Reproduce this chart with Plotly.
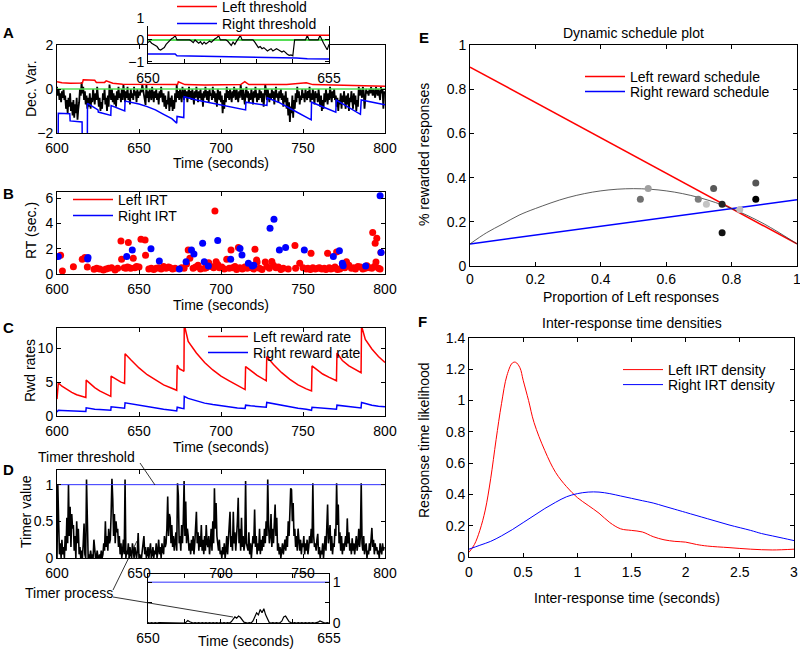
import numpy as np
import plotly.graph_objects as go

W, H = 800, 649
FONT = "Liberation Sans, Arial, Helvetica, sans-serif"

def xd(l, r):
    return [l / W, r / W]

def yd(t, b):
    return [1 - b / H, 1 - t / H]

def px(x):
    return x / W

def py(y):
    return 1 - y / H

# ---------------- Panel A: decision variable ----------------
a_t = np.arange(600, 800, 0.5)
a_dv = [
    0.1, -0.3, 0.0, -0.5, -0.2, -0.6, -0.1, -0.4, 0.0, -0.5,
    -0.3, -0.9, -0.5, -1.1, -0.4, -0.8, -0.2, -1.0, -0.6, -1.2,
    -0.5, -1.3, -0.7, -1.1, -0.4, -1.4, -0.9, -0.6, 0.0, -0.3,
    0.3, -0.2, 0.1, -0.5, -0.1, -0.7, -0.3, -0.9, -0.4, -0.8,
    -0.2, -0.9, -0.4, -0.6, 0.0, -0.3, -0.7, -0.2, -0.5, 0.1,
    -0.3, -0.8, -0.4, -1.0, -0.6, -0.9, -0.2, -0.5, 0.0, -0.7,
    -0.4, -1.0, -0.3, -0.8, 0.2, -0.1, -0.5, 0.0, -0.6, -0.2,
    -0.7, -0.3, -0.8, -0.1, -0.5, 0.1, -0.4, -0.2, -0.6, 0.0,
    -0.5, 0.2, -0.3, -0.6, -0.1, -0.4, 0.1, -0.5, -0.2, -0.7,
    0.0, -0.4, -0.2, -0.5, 0.1, -0.3, -0.1, -0.6, 0.0, -0.4,
    -0.12, -0.3, 0.0, -0.15, 0.2, 0.0, -0.35, -0.5, -0.72, 0.2,
    -0.4, -0.1, -0.6, 0.0, -0.3, -0.5, 0.1, -0.2, -0.6, -0.1,
    -0.4, 0.0, -0.5, -0.2, -0.7, -0.1, -0.4, 0.1, -0.3, -0.6,
    -0.2, -0.8, -0.3, -0.9, -0.5, -0.7, -0.1, -1.0, -0.4, -0.8,
    -0.3, -1.0, -0.5, -0.9, -0.2, -0.6, 0.2, -0.4, -0.1, -0.5,
    0.0, -0.3, -0.6, 0.1, -0.2, -0.5, 0.0, -0.4, -0.1, -0.6,
    -0.2, 0.1, -0.4, -0.1, -0.5, 0.0, -0.3, -0.7, -0.1, -0.4,
    0.1, -0.3, -0.6, -0.1, -0.4, 0.0, -0.5, -0.2, -0.8, -0.1,
    -0.4, 0.1, -0.3, -0.5, -0.1, -0.6, 0.0, -0.3, -0.2, -0.5,
    0.1, -0.4, -0.1, -0.6, -0.2, -0.8, 0.0, -0.3, -0.5, -0.1,
    -0.6, -0.3, -1.1, -0.5, -0.9, -0.2, -0.6, 0.1, -0.4, -0.1,
    -0.5, 0.0, -0.3, -0.6, -0.1, -0.4, 0.1, -0.2, -0.5, 0.0,
    -0.3, -0.6, -0.1, -0.4, 0.2, -0.2, -0.5, 0.0, -0.4, -0.7,
    -0.2, 0.1, -0.4, -0.1, -0.6, -0.2, -0.5, 0.0, -0.3, -0.7,
    -0.1, -0.4, 0.1, -0.3, -0.6, -0.2, -0.5, 0.0, -0.4, -0.1,
    -0.6, -0.2, -0.8, -0.3, 0.2, -0.1, -0.5, 0.0, -0.3, -0.6,
    -0.2, -0.5, 0.0, -0.4, -0.1, -0.7, -0.3, 0.1, -0.4, -0.2,
    -0.6, -0.1, -0.4, 0.0, -0.5, -0.2, -0.8, -0.3, -0.6, -0.1,
    -0.9, -0.4, -1.2, -0.6, -1.5, -0.8, -1.1, -0.3, -1.3, -0.5,
    -0.9, -0.2, -0.6, 0.1, -0.4, -0.1, -0.7, -0.3, -0.5, 0.0,
    -0.4, -0.2, -0.6, 0.0, -0.3, -0.5, -0.1, -0.4, 0.1, -0.6,
    -0.2, -0.5, 0.0, -0.3, -0.7, -0.1, -0.4, -0.2, -0.6, 0.0,
    -0.5, -0.8, -0.3, -1.0, -0.5, -0.9, -0.2, -0.6, 0.0, -0.4,
    -0.7, -0.2, -0.5, 0.1, -0.3, -0.6, -0.1, -0.4, 0.0, -0.5,
    -0.3, -0.8, -0.4, -1.0, -0.5, -0.7, -0.2, -0.9, -0.3, -0.6,
    -0.1, -0.5, -0.9, -0.3, -0.7, -0.2, -1.0, -0.4, -0.6, -0.1,
    -0.5, -0.9, -0.2, -0.7, -0.3, -1.0, -0.5, -0.8, 0.1, -0.3,
    0.0, -0.2, -0.4, 0.1, -0.1, -0.9, -0.3, 0.0, -0.2, -0.1,
    -0.3, 0.0, -0.2, 0.1, -0.1, -0.3, 0.0, -0.2, -0.4, 0.1,
    -0.1, -0.3, 0.0, -0.2, -0.5, 0.1, -0.2, 0.0, -0.9, -0.1,
]
a_lt_t = [600, 603, 608, 612, 615.5, 616, 623, 624, 629, 630, 634, 640, 660,
          673.5, 674, 678, 690, 712, 714.5, 717, 740, 752, 756, 770, 785, 800]
a_lt = [0.33, 0.28, 0.26, 0.27, 0.27, 0.42, 0.4, 0.3, 0.3, 0.37, 0.26, 0.22, 0.2,
        0.2, 0.33, 0.2, 0.18, 0.2, 0.33, 0.2, 0.2, 0.28, 0.2, 0.18, 0.15, 0.12]
a_rt_t = [600, 600.7, 600.8, 607.8, 608.0, 615.3, 615.4, 618.5, 618.6, 625.0, 625.2,
          632.8, 633.0, 641.3, 641.5, 650, 655, 660, 665, 670, 673.0, 673.2, 677.3,
          677.5, 685, 695, 705, 715.0, 715.2, 728.0, 728.2, 735, 745, 755.0, 755.2,
          762, 770.0, 770.3, 778, 785.0, 785.5, 792, 800]
a_rt = [-2.5, -2.5, -1.1, -1.12, -1.45, -1.5, -2.5, -2.5, -0.65, -0.95, -1.05,
        -1.2, -0.75, -1.0, -0.55, -0.68, -0.8, -0.95, -1.15, -1.35, -1.55, -1.25, -1.3,
        -0.35, -0.5, -0.65, -0.8, -0.95, -0.6, -0.75, -0.4, -0.6, -1.0, -1.4, -0.6,
        -0.8, -1.05, -0.5, -0.85, -1.15, -0.5, -0.6, -0.72]
a_zero_t = [600, 800]
a_zero = [0, 0]

# inset A (650-655 s)
ai_t = np.round(np.arange(650, 655.001, 0.05), 2)
ai_dv = [
    -0.12, -0.05, -0.15, -0.2, -0.25, -0.3, -0.42, -0.46, -0.4, -0.35,
    -0.2, -0.1, -0.05, 0.05, 0.1, 0.2, 0.0, 0.0, 0.0, 0.0,
    0.0, 0.0, 0.0, 0.0, -0.05, -0.12, 0.0, -0.1, -0.15, -0.08,
    -0.2, -0.1, -0.18, -0.12, -0.05, -0.1, 0.0, 0.05, 0.1, 0.2,
    0.0, 0.0, 0.0, 0.0, -0.05, -0.15, -0.25, -0.1, -0.2, -0.05,
    0.05, 0.2, 0.0, 0.0, 0.0, 0.0, 0.0, 0.0, 0.0, -0.1,
    -0.2, -0.35, -0.3, -0.4, -0.35, -0.45, -0.5, -0.45, -0.4, -0.5,
    -0.45, -0.4, -0.45, -0.5, -0.55, -0.5, -0.6, -0.65, -0.7, -0.68,
    -0.72, 0.0, 0.0, 0.0, 0.0, 0.0, 0.0, 0.0, 0.2, 0.0,
    0.0, 0.0, 0.0, 0.0, 0.0, 0.2, 0.0, -0.15, -0.3, -0.45,
    -0.2,
]
ai_lt_t = [650, 655]
ai_lt = [0.21, 0.21]
ai_rt_t = [650, 650.75, 650.8, 654.0, 654.1, 654.4, 655]
ai_rt = [-0.64, -0.64, -0.72, -0.79, -0.82, -0.86, -0.87]
ai_zero_t = [650, 655]
ai_zero = [0, 0]

# ---------------- Panel B: response times ----------------
b_left_t = [602.2, 603.3, 610.0, 615.4, 617.0, 618.5, 622.6, 624.2, 626.0, 628.3,
            630.0, 631.5, 633.3, 635.4, 637.0, 639.0, 639.4, 641.0, 642.0, 643.0,
            643.5, 644.0, 645.0, 646.5, 647.5, 648.5, 650.0, 651.2, 653.7, 654.0,
            656.0, 657.5, 659.0, 660.5, 662.0, 663.5, 665.0, 666.5, 668.0, 669.0,
            670.5, 672.0, 676.0, 677.5, 679.0, 680.0, 681.0, 683.0, 684.5, 686.0,
            687.5, 690.0, 691.0, 692.5, 694.0, 695.5, 696.3, 697.0, 698.0, 699.0,
            700.5, 702.0, 703.5, 705.0, 706.1, 707.0, 708.5, 709.5, 710.6, 711.5,
            713.0, 714.5, 716.0, 717.5, 718.5, 720.0, 720.7, 721.7, 722.0, 723.5,
            725.0, 727.0, 728.0, 729.5, 731.0, 732.0, 733.5, 735.0, 736.5, 738.0,
            741.0, 745.1, 745.5, 748.0, 750.0, 752.0, 753.0, 754.5, 754.9, 756.0,
            757.5, 759.0, 760.0, 761.5, 763.0, 764.0, 765.0, 766.0, 767.0, 768.5,
            769.5, 770.5, 771.0, 772.5, 774.0, 775.5, 776.5, 778.0, 779.5, 781.0,
            782.0, 783.5, 785.0, 786.5, 788.0, 789.0, 790.5, 792.0, 792.5, 793.5,
            794.0, 794.5, 795.0, 796.0, 797.0, 797.5]
b_left_rt = [1.48, 0.24, 0.58, 1.16, 1.3, 0.55, 0.37, 0.45, 0.4, 0.32,
             0.4, 0.45, 0.5, 0.32, 0.45, 2.62, 1.16, 0.5, 0.45, 0.55,
             2.5, 0.5, 0.45, 1.24, 0.5, 0.6, 0.55, 2.75, 2.7, 1.48,
             0.4, 0.45, 0.35, 0.45, 0.5, 0.4, 0.6, 0.45, 0.55, 0.5,
             0.4, 0.45, 0.5, 0.45, 0.8, 1.9, 1.24, 0.45, 0.55, 0.7,
             0.4, 0.45, 0.5, 0.9, 0.6, 0.5, 5.0, 0.98, 0.75, 0.5,
             0.55, 0.4, 1.16, 0.45, 1.9, 0.5, 0.6, 0.35, 2.1, 0.5,
             0.4, 0.55, 0.45, 0.65, 0.5, 0.4, 1.96, 1.1, 0.95, 0.45,
             0.35, 0.95, 0.6, 0.45, 1.0, 0.7, 0.5, 0.55, 0.35, 0.45,
             0.4, 2.25, 0.45, 0.85, 0.5, 0.4, 0.45, 0.35, 1.64, 0.5,
             0.4, 0.45, 0.5, 0.4, 0.45, 0.35, 1.64, 0.5, 0.4, 0.45,
             0.55, 1.75, 0.35, 0.4, 0.6, 0.5, 0.98, 0.7, 0.45, 0.5,
             0.4, 0.6, 0.55, 0.4, 0.45, 0.65, 0.5, 0.45, 3.28, 0.6,
             2.43, 0.95, 2.83, 0.45, 0.4, 1.7]
b_right_t = [600.8, 618.7, 618.9, 642.5, 645.9, 657.3, 662.4, 674.6, 678.7, 682.0,
             683.5, 688.8, 689.8, 692.3, 698.0, 705.9, 711.6, 712.8, 716.7, 719.1,
             720.0, 729.9, 732.3, 735.6, 739.4, 750.8, 768.5, 772.2, 774.0, 774.5,
             788.2, 797.0, 797.6]
b_right_rt = [1.38, 1.19, 1.3, 1.38, 1.9, 2.0, 1.03, 0.4, 0.98, 1.9,
              1.58, 2.43, 0.98, 0.63, 2.65, 1.16, 2.03, 1.5, 0.85, 0.63,
              0.7, 3.62, 4.34, 1.9, 2.1, 1.9, 1.38, 1.85, 0.85, 0.65,
              0.63, 6.2, 1.7]

# ---------------- Panel C: reward rates ----------------
c_t = [600, 600.8, 603, 606, 609, 612, 615, 617.6, 617.8, 620, 623, 626, 629,
       632.8, 633.0, 636, 639, 641.2, 641.5, 645, 650, 655, 660, 665, 670, 673.0,
       673.3, 674.5, 676.0, 677.4, 677.6, 680, 685, 690, 695, 700, 705, 710, 714.7,
       715.0, 718, 722, 727.6, 727.9, 732, 737, 742, 747, 752, 755.2, 755.5, 758,
       762, 766, 770.4, 770.7, 774, 778, 782, 785.4, 785.7, 788, 792, 796, 800]
c_left = [2.5, 4.9, 4.4, 3.9, 3.5, 3.15, 2.9, 2.75, 5.3, 4.8, 4.2, 3.7, 3.3,
          2.9, 5.9, 5.4, 5.0, 4.8, 9.2, 8.3, 7.1, 6.1, 5.3, 4.6, 4.1, 3.8,
          7.5, 7.0, 6.8, 6.6, 13.5, 11.0, 9.3, 7.9, 6.8, 5.9, 5.2, 4.5, 3.9,
          7.3, 6.7, 6.0, 5.2, 8.8, 7.6, 6.4, 5.4, 4.6, 4.0, 3.7, 7.4, 6.9,
          6.2, 5.7, 5.2, 9.3, 8.2, 7.4, 6.8, 6.4, 13.3, 11.3, 9.9, 8.8, 7.9]
c_right = [0.6, 0.85, 0.82, 0.8, 0.75, 0.75, 0.72, 0.68, 1.2, 1.1, 1.0, 0.95, 0.9,
           0.85, 1.35, 1.25, 1.2, 1.15, 1.95, 1.8, 1.55, 1.35, 1.15, 1.0, 0.85, 0.75,
           1.3, 1.2, 1.15, 1.1, 2.9, 2.6, 2.2, 1.9, 1.7, 1.5, 1.35, 1.2, 1.12,
           1.6, 1.5, 1.4, 1.3, 2.0, 1.8, 1.55, 1.35, 1.15, 1.0, 0.85, 1.3, 1.25,
           1.15, 1.05, 1.0, 1.6, 1.5, 1.4, 1.3, 1.2, 2.0, 1.85, 1.6, 1.45, 1.35]

# ---------------- Panel D: timer ----------------
d_t = np.arange(600, 800, 0.5)
d_timer = [
    0.0, 1.0, 0.5, 0.05, 0.2, 0.0, 0.25, 0.05, 0.15, 0.0,
    0.3, 0.1, 0.55, 0.2, 1.0, 0.3, 0.7, 0.15, 0.6, 0.4,
    0.45, 0.1, 0.3, 0.0, 0.5, 0.2, 0.4, 0.05, 0.15, 0.0,
    0.1, 0.0, 0.2, 0.47, 0.05, 0.0, 1.07, 0.1, 0.0, 0.05,
    0.0, 0.1, 0.0, 0.05, 0.0, 0.25, 0.05, 0.0, 0.0, 0.1,
    0.0, 0.0, 0.05, 0.0, 0.1, 0.0, 0.05, 0.2, 0.1, 0.5,
    0.15, 0.3, 0.1, 0.4, 0.2, 0.25, 0.6, 1.08, 0.8, 0.3,
    0.6, 0.2, 0.5, 0.35, 0.4, 0.15, 0.3, 0.05, 0.2, 0.0,
    0.1, 0.25, 0.05, 1.07, 0.0, 0.1, 0.05, 0.2, 0.0, 0.15,
    0.05, 0.0, 0.2, 0.1, 0.0, 0.15, 0.05, 0.0, 0.1, 0.34,
    0.0, 0.05, 0.0, 0.0, 0.1, 0.2, 0.3, 0.05, 0.15, 0.0,
    0.05, 0.15, 0.0, 0.1, 0.2, 0.0, 0.05, 0.15, 0.0, 0.1,
    0.05, 0.2, 0.0, 0.1, 0.25, 0.05, 0.15, 0.0, 0.2, 0.1,
    0.05, 0.3, 0.15, 0.2, 0.4, 0.84, 0.3, 0.6, 0.55, 0.2,
    0.45, 0.15, 0.3, 0.1, 0.2, 0.35, 0.1, 1.02, 0.85, 0.2,
    0.3, 0.1, 0.45, 0.2, 0.5, 1.05, 0.3, 0.77, 0.2, 0.4,
    0.3, 0.1, 0.2, 0.05, 0.25, 0.1, 0.3, 0.05, 0.2, 0.4,
    0.63, 0.2, 0.35, 0.1, 0.3, 0.15, 0.45, 0.1, 0.25, 0.05,
    0.3, 0.1, 0.45, 0.2, 0.15, 0.3, 0.05, 0.2, 0.4, 0.1,
    0.5, 0.2, 0.95, 0.4, 0.75, 0.3, 0.2, 0.1, 0.25, 0.05,
    0.1, 0.0, 0.15, 0.05, 0.2, 0.0, 0.1, 0.3, 0.05, 0.2,
    0.4, 0.63, 0.15, 0.3, 0.1, 0.63, 0.2, 0.35, 0.1, 0.25,
    0.5, 0.82, 0.2, 0.4, 0.1, 0.55, 0.15, 0.3, 0.1, 0.2,
    1.05, 0.2, 0.15, 0.1, 0.35, 0.05, 0.2, 0.0, 0.15, 0.3,
    0.2, 0.66, 0.15, 0.3, 0.05, 0.2, 0.1, 0.4, 0.05, 0.25,
    0.1, 0.3, 0.15, 0.4, 0.2, 0.5, 0.3, 1.07, 0.45, 0.2,
    0.3, 0.6, 0.15, 0.4, 0.2, 0.5, 0.73, 0.3, 0.55, 0.1,
    0.2, 0.05, 0.15, 0.0, 0.1, 0.2, 0.05, 0.15, 0.25, 0.1,
    0.3, 0.15, 0.5, 0.3, 0.7, 0.95, 0.93, 0.5, 0.75, 0.3,
    0.4, 0.15, 0.3, 0.1, 0.4, 0.2, 0.1, 0.25, 0.05, 0.2,
    0.15, 0.3, 0.05, 0.2, 0.1, 0.25, 0.05, 0.15, 0.3, 0.2,
    0.4, 0.2, 1.02, 0.3, 0.15, 0.2, 0.1, 0.25, 0.33, 0.05,
    0.15, 0.0, 0.1, 0.05, 0.2, 0.0, 0.15, 0.3, 0.1, 0.4,
    0.73, 0.2, 0.35, 0.45, 0.1, 0.3, 0.05, 0.2, 0.15, 0.4,
    0.3, 1.02, 0.45, 0.73, 0.2, 0.35, 0.1, 0.3, 0.05, 0.2,
    0.1, 0.25, 0.3, 0.15, 0.54, 0.2, 0.35, 0.1, 0.2, 0.05,
    0.27, 0.1, 0.2, 0.05, 0.15, 0.3, 0.1, 0.2, 0.4, 0.15,
    0.3, 1.02, 0.2, 0.1, 0.3, 0.05, 0.15, 0.2, 0.0, 0.1,
    0.05, 0.2, 0.1, 0.3, 0.41, 0.15, 0.25, 0.05, 0.2, 0.1,
    0.15, 0.05, 0.1, 0.0, 0.2, 0.1, 0.05, 0.2, 0.1, 0.15,
]
d_thr_t = [600, 800]
d_thr = [1, 1]
di_t = np.round(np.arange(650, 655.001, 0.05), 2)
di_timer = [
    0.01, 0.0, 0.01, 0.0, 0.01, 0.0, 0.01, 0.01, 0.0, 0.01,
    0.0, 0.01, 0.0, 0.01, 0.0, 0.01, 0.0, 0.01, 0.0, 0.01,
    0.0, 0.02, 0.06, 0.03, 0.01, 0.0, 0.01, 0.0, 0.01, 0.0,
    0.01, 0.0, 0.01, 0.0, 0.01, 0.0, 0.01, 0.0, 0.01, 0.0,
    0.01, 0.0, 0.01, 0.0, 0.01, 0.0, 0.03, 0.1, 0.15, 0.12,
    0.17, 0.14, 0.08, 0.02, 0.01, 0.0, 0.01, 0.0, 0.05, 0.15,
    0.25, 0.2, 0.33, 0.25, 0.35, 0.2, 0.08, 0.01, 0.0, 0.01,
    0.0, 0.01, 0.0, 0.01, 0.05, 0.15, 0.17, 0.1, 0.03, 0.01,
    0.0, 0.01, 0.0, 0.01, 0.0, 0.01, 0.0, 0.01, 0.0, 0.01,
    0.0, 0.01, 0.0, 0.01, 0.02, 0.05, 0.02, 0.01, 0.0, 0.01,
    0.0,
]
di_thr_t = [650, 655]
di_thr = [1, 1]

# ---------------- Panel E: dynamic schedule ----------------
e_sched_p = [0, 1]
e_left_sched = [0.9, 0.1]
e_right_sched = [0.1, 0.3]
e_curve_p = [0, 0.05, 0.1, 0.15, 0.2, 0.3, 0.4, 0.5, 0.6, 0.7, 0.8, 0.9, 1.0]
e_curve = [0.10, 0.15, 0.19, 0.23, 0.26, 0.31, 0.34, 0.35, 0.34, 0.31, 0.26, 0.19, 0.10]
e_pts_p = [0.521, 0.545, 0.698, 0.723, 0.745, 0.771, 0.771, 0.825, 0.874, 0.874]
e_pts_r = [0.302, 0.351, 0.302, 0.279, 0.351, 0.279, 0.151, 0.256, 0.376, 0.302]
e_pts_col = ["#707070", "#a0a0a0", "#7c7c7c", "#c4c4c4", "#585858",
             "#262626", "#111111", "#bdbdbd", "#555555", "#000000"]

# ---------------- Panel F: IRT densities ----------------
f_left_x = [0, 0.05, 0.1, 0.15, 0.2, 0.25, 0.3, 0.35, 0.4, 0.43, 0.47, 0.5, 0.55,
            0.6, 0.7, 0.8, 0.9, 1.0, 1.1, 1.2, 1.3, 1.4, 1.5, 1.6, 1.7, 1.8, 1.9,
            2.0, 2.1, 2.2, 2.4, 2.6, 2.8, 3.0]
f_left = [0.03, 0.08, 0.17, 0.3, 0.5, 0.75, 0.98, 1.16, 1.24, 1.245, 1.21, 1.13, 1.0,
          0.86, 0.68, 0.54, 0.45, 0.38, 0.33, 0.28, 0.22, 0.18, 0.17, 0.16, 0.13, 0.11, 0.1,
          0.095, 0.08, 0.07, 0.06, 0.05, 0.045, 0.05]
f_right_x = [0, 0.1, 0.2, 0.3, 0.4, 0.5, 0.6, 0.7, 0.8, 0.9, 1.0, 1.1, 1.2, 1.3,
             1.4, 1.5, 1.6, 1.7, 1.8, 1.9, 2.0, 2.2, 2.4, 2.6, 2.7, 2.8, 2.9, 3.0]
f_right = [0.05, 0.075, 0.1, 0.135, 0.175, 0.22, 0.265, 0.31, 0.35, 0.385, 0.405, 0.415,
           0.415, 0.405, 0.39, 0.375, 0.36, 0.345, 0.325, 0.305, 0.285, 0.245, 0.205,
           0.17, 0.15, 0.135, 0.12, 0.105]

RED = "#ff0000"
BLUE = "#0000ff"
GREEN = "#55dd55"

fig = go.Figure()

def line(x, y, xa, ya, color, width, name=None, legend=None, shape="linear"):
    fig.add_trace(go.Scatter(x=x, y=y, mode="lines", xaxis=xa, yaxis=ya,
                             line=dict(color=color, width=width, shape=shape),
                             name=name, showlegend=name is not None,
                             legend=legend, hoverinfo="skip"))

# A main
line(a_t, a_dv, "x", "y", "black", 1.8)
line(a_zero_t, a_zero, "x", "y", GREEN, 1.5)
line(a_lt_t, a_lt, "x", "y", RED, 1.5, "Left threshold", "legend")
line(a_rt_t, a_rt, "x", "y", BLUE, 1.5, "Right threshold", "legend2")
# A inset
line(ai_zero_t, ai_zero, "x2", "y2", GREEN, 2)
line(ai_t, ai_dv, "x2", "y2", "black", 1.2)
line(ai_lt_t, ai_lt, "x2", "y2", RED, 1.5)
line(ai_rt_t, ai_rt, "x2", "y2", BLUE, 1.5)
# B
fig.add_trace(go.Scatter(x=b_left_t, y=b_left_rt, mode="markers", xaxis="x3", yaxis="y3",
                         marker=dict(color=RED, size=7), showlegend=False, hoverinfo="skip"))
fig.add_trace(go.Scatter(x=b_right_t, y=b_right_rt, mode="markers", xaxis="x3", yaxis="y3",
                         marker=dict(color=BLUE, size=7), showlegend=False, hoverinfo="skip"))
line([None], [None], "x3", "y3", RED, 1.5, "Left IRT", "legend3")
line([None], [None], "x3", "y3", BLUE, 1.5, "Right IRT", "legend4")
# C
line(c_t, c_left, "x4", "y4", RED, 1.5, "Left reward rate", "legend5")
line(c_t, c_right, "x4", "y4", BLUE, 1.5, "Right reward rate", "legend6")
# D
line(d_t, d_timer, "x5", "y5", "black", 1.6)
line(d_thr_t, d_thr, "x5", "y5", "#3030ff", 1)
line(di_t, di_timer, "x6", "y6", "black", 1.2)
line(di_thr_t, di_thr, "x6", "y6", "#3030ff", 1)
# E
line(e_sched_p, e_left_sched, "x7", "y7", RED, 1.5, "Left reward schedule", "legend7")
line(e_sched_p, e_right_sched, "x7", "y7", BLUE, 1.5, "Right reward schedule", "legend8")
line(e_curve_p, e_curve, "x7", "y7", "#333333", 0.8, shape="spline")
fig.add_trace(go.Scatter(x=e_pts_p, y=e_pts_r, mode="markers", xaxis="x7", yaxis="y7",
                         marker=dict(color=e_pts_col, size=7), showlegend=False, hoverinfo="skip"))
# F
line(f_left_x, f_left, "x8", "y8", RED, 1, "Left IRT density", "legend9", shape="spline")
line(f_right_x, f_right, "x8", "y8", BLUE, 1, "Right IRT density", "legend10", shape="spline")


def axis(domain, anchor, rng, tickvals, ticktext=None, side=None, standoff=None):
    d = dict(domain=domain, anchor=anchor, range=rng, tickvals=tickvals,
             showline=True, linecolor="black", linewidth=1, mirror="ticks",
             ticks="inside", ticklen=4, tickwidth=1, tickcolor="black",
             showgrid=False, zeroline=False, fixedrange=True, automargin=False,
             ticklabeloverflow="allow",
             tickfont=dict(family=FONT, size=14, color="black"))
    if ticktext is not None:
        d["ticktext"] = ticktext
    if side:
        d["side"] = side
    if standoff is not None:
        d["ticklabelstandoff"] = standoff
    return d

time_ticks = [600, 650, 700, 750, 800]
ins_ticks = [650, 651, 652, 653, 654, 655]
ins_text = ["650", "", "", "", "", "655"]

layout = dict(
    width=W, height=H, margin=dict(l=0, r=0, t=0, b=0, pad=0, autoexpand=False),
    paper_bgcolor="white", plot_bgcolor="white",
    font=dict(family=FONT, size=14, color="black"),
    xaxis=axis(xd(57, 385), "y", [600, 800], time_ticks, standoff=2),
    yaxis=axis(yd(45, 133), "x", [-2, 2], [-2, 0, 2]),
    xaxis2=axis(xd(148, 329), "y2", [650, 655], ins_ticks, ins_text, standoff=2),
    yaxis2=axis(yd(18, 63), "x2", [-1.05, 1.0], [-1, 0, 1]),
    xaxis3=axis(xd(57, 385), "y3", [600, 800], time_ticks, standoff=2),
    yaxis3=axis(yd(192, 274), "x3", [0, 6.5], [0, 2, 4, 6]),
    xaxis4=axis(xd(57, 385), "y4", [600, 800], time_ticks, standoff=2),
    yaxis4=axis(yd(328, 416), "x4", [0, 13], [0, 5, 10]),
    xaxis5=axis(xd(57, 385), "y5", [600, 800], time_ticks, standoff=2),
    yaxis5=axis(yd(470, 558), "x5", [0, 1.2], [0, 0.5, 1], ["0", "0.5", "1"]),
    xaxis6=axis(xd(148, 329), "y6", [650, 655], ins_ticks, ins_text, standoff=2),
    yaxis6=axis(yd(574, 623), "x6", [0, 1.2], [0, 0.5, 1], ["0", "", "1"], side="right"),
    xaxis7=axis(xd(470, 797), "y7", [0, 1], [0, 0.2, 0.4, 0.6, 0.8, 1],
                ["0", "0.2", "0.4", "0.6", "0.8", "1"]),
    yaxis7=axis(yd(45, 266), "x7", [0, 1], [0, 0.2, 0.4, 0.6, 0.8, 1],
                ["0", "0.2", "0.4", "0.6", "0.8", "1"]),
    xaxis8=axis(xd(469, 794), "y8", [0, 3], [0, 0.5, 1, 1.5, 2, 2.5, 3],
                ["0", "0.5", "1", "1.5", "2", "2.5", "3"], standoff=2),
    yaxis8=axis(yd(338, 557), "x8", [0, 1.4], [0, 0.2, 0.4, 0.6, 0.8, 1, 1.2, 1.4],
                ["0", "0.2", "0.4", "0.6", "0.8", "1", "1.2", "1.4"]),
)

def leg(x, y):
    return dict(x=px(x), y=py(y), xanchor="left", yanchor="middle",
                bgcolor="rgba(0,0,0,0)", borderwidth=0, itemwidth=40,
                font=dict(family=FONT, size=14, color="black"))

legend_pos = {"legend": (172, 7), "legend2": (172, 24),
              "legend3": (68, 200), "legend4": (68, 216),
              "legend5": (203, 337), "legend6": (203, 353),
              "legend7": (580, 77), "legend8": (580, 92),
              "legend9": (618, 370), "legend10": (618, 385)}
for k, (x, y) in legend_pos.items():
    layout[k] = leg(x, y)

annots = []
def ann(text, x, y, size=14, angle=0, bold=False, xanchor="center"):
    annots.append(dict(text=("<b>%s</b>" % text) if bold else text,
                       x=px(x), y=py(y), xref="paper", yref="paper",
                       xanchor=xanchor, yanchor="middle", showarrow=False,
                       textangle=angle, font=dict(family=FONT, size=size, color="black")))

for lab, x, y in [("A", 8, 33), ("B", 8, 193), ("C", 8, 327), ("D", 8, 470),
                  ("E", 424, 37), ("F", 422, 321)]:
    ann(lab, x, y, 15, bold=True)

ann("Dec. Var.", 31, 89, angle=-90)
ann("Time (seconds)", 221, 163)
ann("RT (sec.)", 31, 231, angle=-90)
ann("Time (seconds)", 221, 305)
ann("Rwd rates", 30, 371, angle=-90)
ann("Time (seconds)", 221, 447)
ann("Timer value", 26, 512, angle=-90)
ann("Time (seconds)", 246, 641)
ann("Timer threshold", 86, 457, 14)
ann("Timer process", 69, 593, 14)
ann("Dynamic schedule plot", 633, 33, 14)
ann("Proportion of Left responses", 631, 297, 14)
ann("% rewarded responses", 424, 155, 14, angle=-90)
ann("Inter-response time densities", 632, 323, 14)
ann("Inter-response time (seconds)", 627, 598, 14)
ann("Response time likelihood", 424, 440, 14, angle=-90)
layout["annotations"] = annots

shapes = []
# white legend background over the top of inset A
shapes.append(dict(type="rect", xref="paper", yref="paper", layer="above",
                   x0=px(146), x1=px(333), y0=py(26), y1=py(0),
                   fillcolor="white", line=dict(width=0)))
for (x0, y0, x1, y1) in [(140, 463, 155, 485), (113, 590, 137, 541), (113, 597, 233, 617)]:
    shapes.append(dict(type="line", xref="paper", yref="paper",
                       x0=px(x0), y0=py(y0), x1=px(x1), y1=py(y1),
                       line=dict(color="black", width=0.8)))
layout["shapes"] = shapes

fig.update_layout(**layout)
fig.write_html("out.html",
               config={"displayModeBar": False},
               post_script="document.body.style.margin='0px';"
                           "document.body.style.overflow='hidden';")
